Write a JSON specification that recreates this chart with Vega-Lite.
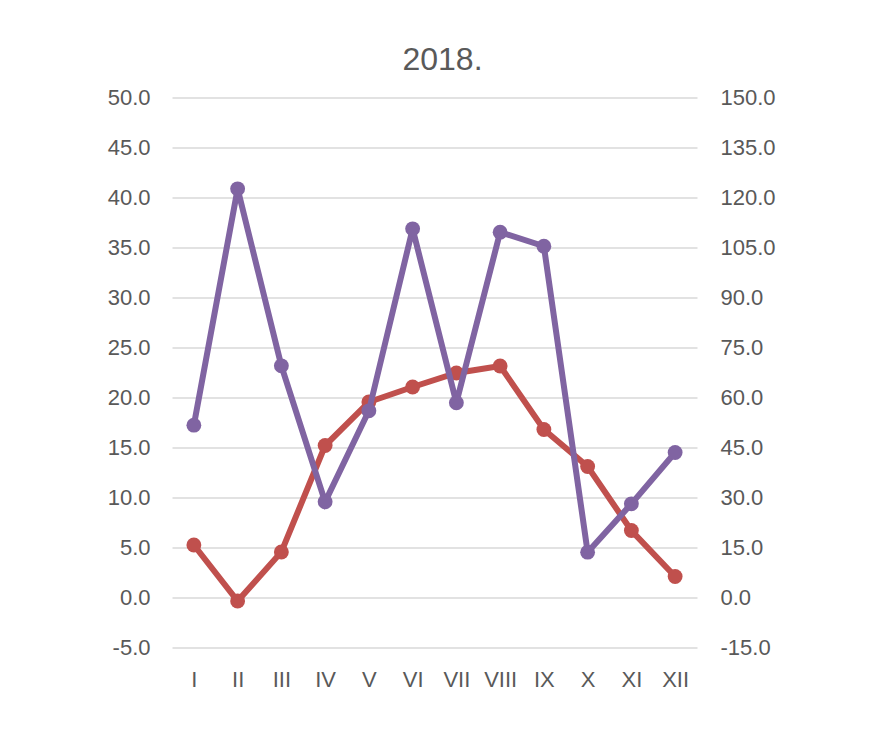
{
  "$schema": "https://vega.github.io/schema/vega-lite/v6.json",
  "width": 525,
  "height": 550,
  "autosize": {"type": "none"},
  "padding": {"left": 172, "top": 97.5, "right": 178, "bottom": 83.5},
  "background": "white",
  "title": {"text": "2018.", "fontSize": 32, "font": "Liberation Sans", "fontWeight": "normal", "color": "#595959", "offset": 10, "dx": 8},
  "data": {
    "values": [
      {"m": "I", "t": 5.25, "p": 51.7},
      {"m": "II", "t": -0.35, "p": 122.6},
      {"m": "III", "t": 4.55, "p": 69.5},
      {"m": "IV", "t": 15.2, "p": 28.7},
      {"m": "V", "t": 19.55, "p": 56.0},
      {"m": "VI", "t": 21.05, "p": 110.6},
      {"m": "VII", "t": 22.45, "p": 58.4},
      {"m": "VIII", "t": 23.15, "p": 109.6},
      {"m": "IX", "t": 16.8, "p": 105.4},
      {"m": "X", "t": 13.1, "p": 13.6},
      {"m": "XI", "t": 6.7, "p": 28.1},
      {"m": "XII", "t": 2.1, "p": 43.5}
    ]
  },
  "encoding": {
    "x": {
      "field": "m",
      "type": "ordinal",
      "sort": null,
      "scale": {"type": "point", "padding": 0.5},
      "axis": {
        "title": null,
        "ticks": false,
        "domain": false,
        "grid": false,
        "labelAngle": 0,
        "labelPadding": 22,
        "labelFontSize": 22,
        "labelFont": "Liberation Sans",
        "labelColor": "#595959"
      }
    }
  },
  "layer": [
    {
      "encoding": {
        "y": {
          "field": "t",
          "type": "quantitative",
          "scale": {"domain": [-5, 50], "nice": false, "zero": false},
          "axis": {
            "orient": "left",
            "title": null,
            "values": [-5, 0, 5, 10, 15, 20, 25, 30, 35, 40, 45, 50],
            "labelExpr": "datum.value < 0 ? '-' + format(-datum.value, '.1f') : format(datum.value, '.1f')",
            "grid": true,
            "gridColor": "#D9D9D9",
            "gridWidth": 1.4,
            "domain": false,
            "ticks": false,
            "labelPadding": 22,
            "labelFontSize": 22,
            "labelFont": "Liberation Sans",
            "labelColor": "#595959"
          }
        }
      },
      "layer": [
        {"mark": {"type": "line", "color": "#C0504D", "strokeWidth": 6}},
        {"mark": {"type": "point", "filled": true, "opacity": 1, "size": 220, "color": "#C0504D"}}
      ]
    },
    {
      "encoding": {
        "y": {
          "field": "p",
          "type": "quantitative",
          "scale": {"domain": [-15, 150], "nice": false, "zero": false},
          "axis": {
            "orient": "right",
            "title": null,
            "values": [-15, 0, 15, 30, 45, 60, 75, 90, 105, 120, 135, 150],
            "labelExpr": "datum.value < 0 ? '-' + format(-datum.value, '.1f') : format(datum.value, '.1f')",
            "grid": false,
            "domain": false,
            "ticks": false,
            "labelPadding": 23,
            "labelFontSize": 22,
            "labelFont": "Liberation Sans",
            "labelColor": "#595959"
          }
        }
      },
      "layer": [
        {"mark": {"type": "line", "color": "#8064A2", "strokeWidth": 6}},
        {"mark": {"type": "point", "filled": true, "opacity": 1, "size": 220, "color": "#8064A2"}}
      ]
    }
  ],
  "resolve": {"scale": {"y": "independent"}},
  "config": {"view": {"stroke": null}}
}
